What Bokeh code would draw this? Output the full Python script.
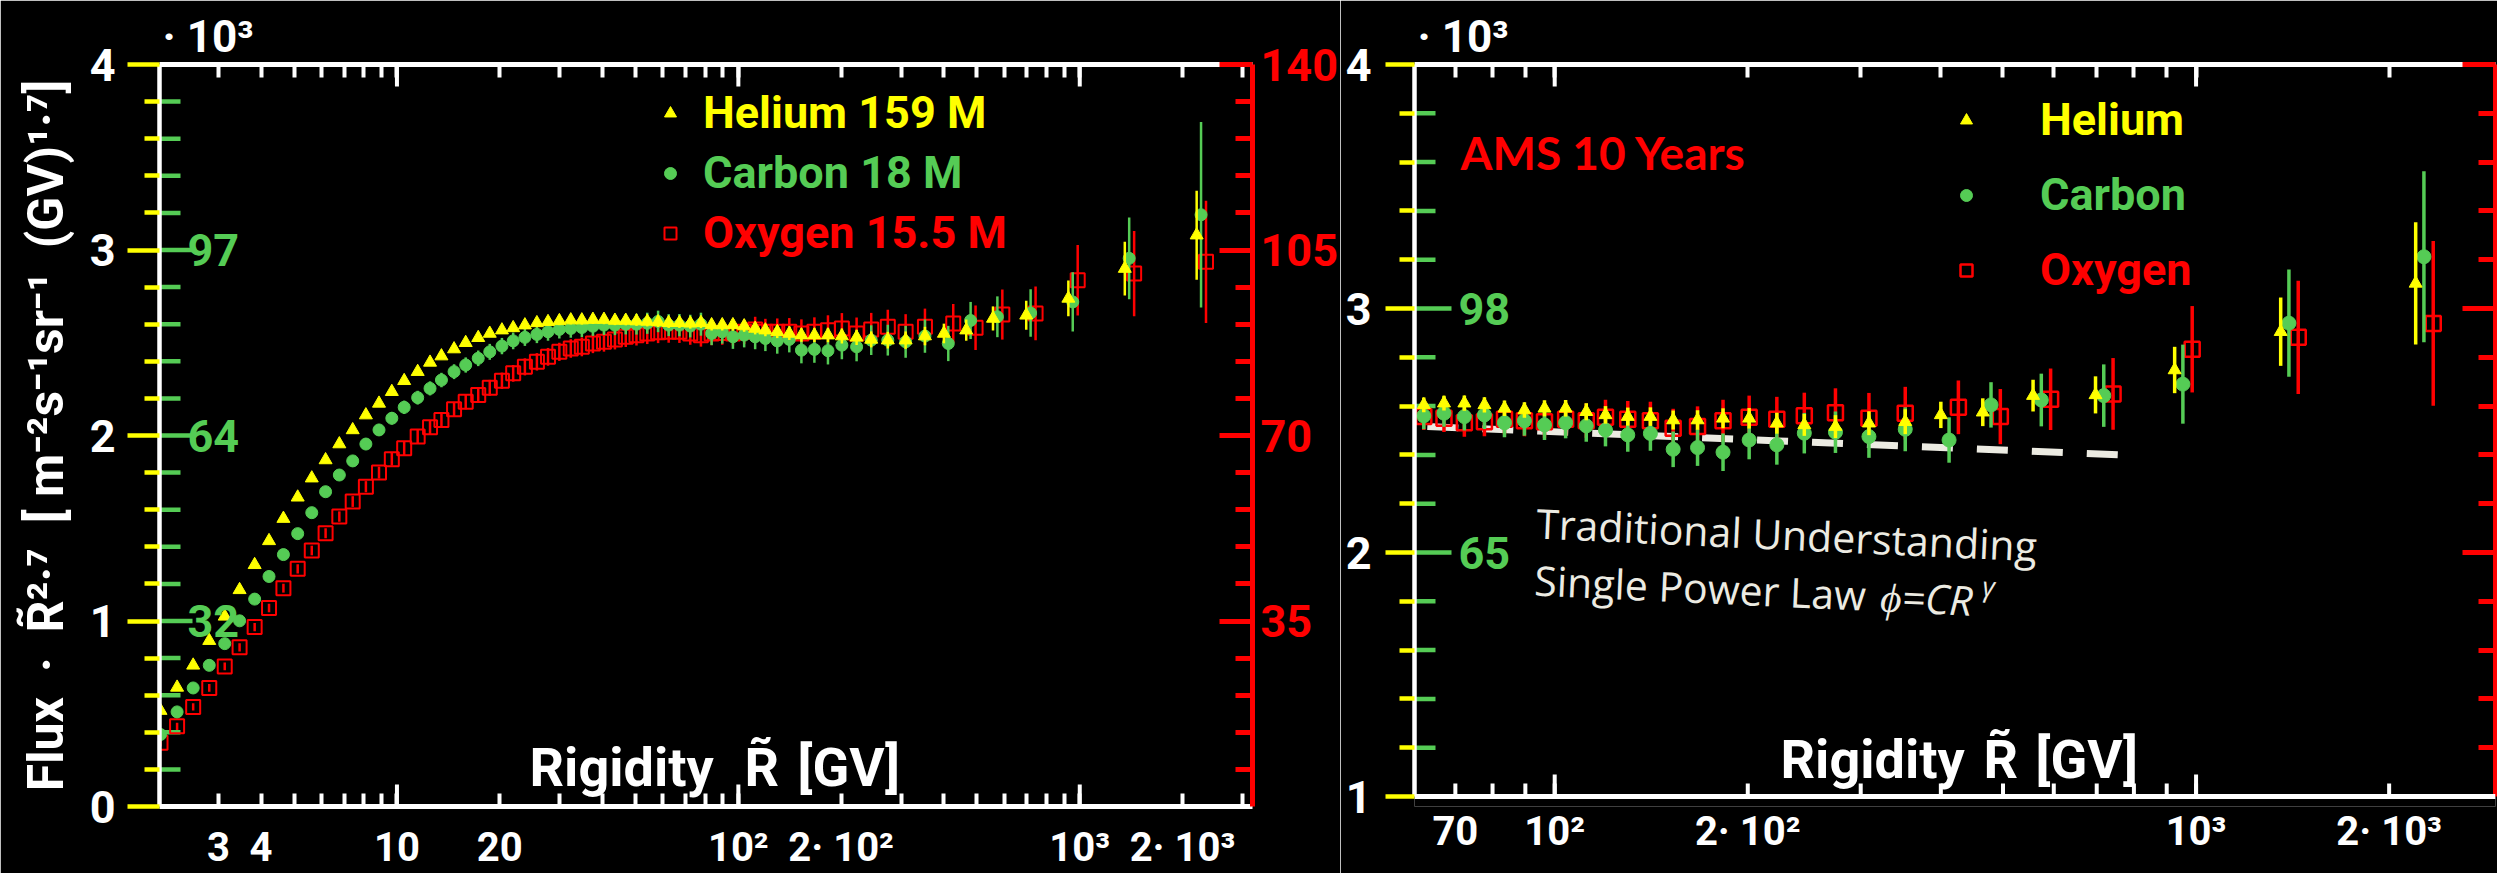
import math

from bokeh.embed import file_html
from bokeh.layouts import row
from bokeh.models import (ColumnDataSource, FixedTicker, Label, Legend, LegendItem,
                          LinearAxis, LogAxis, Range1d, Span)
from bokeh.plotting import figure
from bokeh.resources import INLINE

# ---------------------------------------------------------------------------
# AMS helium, carbon and oxygen rigidity spectra, flux x R^2.7 (units of 10^3)
# ---------------------------------------------------------------------------
rigidity = [2.03, 2.27, 2.53, 2.82, 3.13, 3.46, 3.83, 4.22, 4.65, 5.12,
            5.63, 6.18, 6.78, 7.42, 8.11, 8.86, 9.66, 10.5, 11.5, 12.5,
            13.5, 14.7, 15.9, 17.3, 18.7, 20.3, 21.9, 23.7, 25.7, 27.7,
            29.9, 32.3, 34.8, 37.5, 40.4, 43.5, 46.8, 50.3, 54.1, 58.2,
            62.5, 67.2, 72.3, 77.7, 83.5, 89.7, 96.4, 104, 112, 120,
            130, 141, 153, 167, 183, 201, 222, 245, 274, 309,
            352, 400, 465, 557, 697, 926, 1355, 2200]

helium_flux = [0.517, 0.642, 0.761, 0.894, 1.025, 1.168, 1.303, 1.432, 1.552, 1.667,
               1.770, 1.868, 1.954, 2.030, 2.110, 2.173, 2.236, 2.295, 2.344, 2.394,
               2.428, 2.466, 2.500, 2.527, 2.550, 2.568, 2.580, 2.595, 2.607, 2.613,
               2.618, 2.622, 2.622, 2.625, 2.625, 2.620, 2.620, 2.617, 2.615, 2.612,
               2.608, 2.608, 2.605, 2.608, 2.596, 2.596, 2.596, 2.590, 2.577, 2.568,
               2.559, 2.550, 2.541, 2.541, 2.541, 2.536, 2.529, 2.518, 2.514, 2.514,
               2.536, 2.550, 2.568, 2.631, 2.648, 2.739, 2.900, 3.080]
helium_err = [0.005, 0.005, 0.005, 0.005, 0.005, 0.005, 0.005, 0.006, 0.006, 0.006,
              0.006, 0.007, 0.007, 0.007, 0.008, 0.009, 0.010, 0.011, 0.012, 0.013,
              0.014, 0.015, 0.016, 0.017, 0.018, 0.019, 0.020, 0.021, 0.022, 0.022,
              0.023, 0.023, 0.024, 0.024, 0.025, 0.025, 0.026, 0.026, 0.027, 0.027,
              0.028, 0.028, 0.029, 0.029, 0.030, 0.030, 0.031, 0.031, 0.032, 0.033,
              0.034, 0.035, 0.036, 0.037, 0.038, 0.040, 0.041, 0.043, 0.045, 0.047,
              0.050, 0.053, 0.057, 0.065, 0.078, 0.096, 0.145, 0.240]

carbon_flux = [0.388, 0.510, 0.639, 0.761, 0.878, 1.001, 1.118, 1.240, 1.358, 1.471,
               1.584, 1.697, 1.787, 1.863, 1.954, 2.030, 2.093, 2.152, 2.204, 2.254,
               2.299, 2.344, 2.380, 2.416, 2.451, 2.482, 2.510, 2.529, 2.545, 2.559,
               2.572, 2.577, 2.582, 2.589, 2.595, 2.595, 2.600, 2.600, 2.605, 2.615,
               2.595, 2.595, 2.590, 2.600, 2.550, 2.559, 2.532, 2.541, 2.532, 2.523,
               2.510, 2.518, 2.460, 2.464, 2.457, 2.487, 2.478, 2.514, 2.514, 2.505,
               2.536, 2.496, 2.620, 2.640, 2.660, 2.720, 2.955, 3.190]
carbon_err = [0.020, 0.020, 0.020, 0.021, 0.021, 0.022, 0.022, 0.023, 0.024, 0.025,
              0.026, 0.027, 0.028, 0.029, 0.030, 0.032, 0.034, 0.036, 0.037, 0.038,
              0.039, 0.040, 0.041, 0.042, 0.043, 0.044, 0.045, 0.046, 0.047, 0.048,
              0.049, 0.050, 0.051, 0.052, 0.053, 0.054, 0.055, 0.056, 0.057, 0.058,
              0.059, 0.060, 0.061, 0.062, 0.063, 0.064, 0.065, 0.066, 0.067, 0.068,
              0.069, 0.070, 0.071, 0.072, 0.074, 0.076, 0.078, 0.080, 0.083, 0.086,
              0.090, 0.095, 0.100, 0.110, 0.128, 0.160, 0.220, 0.500]

oxygen_flux = [0.343, 0.432, 0.537, 0.639, 0.755, 0.858, 0.967, 1.070, 1.177, 1.281,
               1.380, 1.473, 1.563, 1.644, 1.724, 1.800, 1.872, 1.931, 1.994, 2.044,
               2.083, 2.141, 2.182, 2.218, 2.257, 2.295, 2.335, 2.370, 2.397, 2.424,
               2.451, 2.469, 2.478, 2.496, 2.505, 2.518, 2.532, 2.541, 2.550, 2.556,
               2.559, 2.559, 2.550, 2.541, 2.550, 2.553, 2.550, 2.559, 2.572, 2.559,
               2.559, 2.559, 2.550, 2.559, 2.568, 2.577, 2.550, 2.572, 2.586, 2.559,
               2.586, 2.604, 2.581, 2.652, 2.658, 2.837, 2.873, 2.936]
oxygen_err = [0.020, 0.020, 0.020, 0.021, 0.021, 0.022, 0.022, 0.023, 0.024, 0.025,
              0.026, 0.027, 0.028, 0.029, 0.030, 0.032, 0.034, 0.036, 0.037, 0.038,
              0.039, 0.040, 0.041, 0.042, 0.043, 0.044, 0.045, 0.046, 0.047, 0.048,
              0.049, 0.050, 0.051, 0.052, 0.053, 0.054, 0.055, 0.056, 0.057, 0.058,
              0.059, 0.060, 0.061, 0.062, 0.063, 0.064, 0.065, 0.066, 0.068, 0.070,
              0.072, 0.074, 0.076, 0.078, 0.080, 0.083, 0.086, 0.089, 0.092, 0.095,
              0.098, 0.105, 0.120, 0.135, 0.145, 0.190, 0.230, 0.330]

# ten-year data set above 60 GV
rigidity_10y = [62.5, 67.2, 72.3, 77.7, 83.5, 89.7, 96.4, 104, 112, 120,
                130, 141, 153, 167, 183, 201, 222, 245, 274, 309,
                352, 400, 465, 557, 697, 926, 1355, 2200]
helium_flux_10y = [2.605, 2.612, 2.612, 2.605, 2.591, 2.584, 2.591, 2.591, 2.577, 2.564,
                   2.557, 2.557, 2.543, 2.543, 2.550, 2.550, 2.530, 2.523, 2.516, 2.530,
                   2.536, 2.564, 2.575, 2.643, 2.646, 2.748, 2.905, 3.103]
helium_err_10y = [0.030, 0.030, 0.031, 0.031, 0.032, 0.032, 0.033, 0.034, 0.035, 0.036,
                  0.037, 0.038, 0.039, 0.040, 0.041, 0.042, 0.043, 0.045, 0.047, 0.049,
                  0.051, 0.054, 0.057, 0.065, 0.076, 0.095, 0.140, 0.250]
carbon_flux_10y = [2.560, 2.571, 2.557, 2.564, 2.532, 2.540, 2.523, 2.532, 2.519, 2.502,
                   2.482, 2.488, 2.423, 2.430, 2.411, 2.461, 2.441, 2.489, 2.493, 2.475,
                   2.505, 2.461, 2.605, 2.625, 2.643, 2.690, 2.940, 3.212]
carbon_err_10y = [0.055, 0.056, 0.057, 0.058, 0.060, 0.061, 0.062, 0.064, 0.065, 0.067,
                  0.069, 0.071, 0.073, 0.075, 0.077, 0.079, 0.081, 0.083, 0.085, 0.087,
                  0.090, 0.093, 0.093, 0.108, 0.128, 0.162, 0.220, 0.350]
oxygen_flux_10y = [2.557, 2.550, 2.532, 2.536, 2.546, 2.540, 2.536, 2.546, 2.540, 2.554,
                   2.546, 2.540, 2.509, 2.516, 2.540, 2.554, 2.546, 2.560, 2.573, 2.550,
                   2.571, 2.595, 2.557, 2.628, 2.650, 2.833, 2.882, 2.939]
oxygen_err_10y = [0.055, 0.056, 0.058, 0.060, 0.062, 0.064, 0.066, 0.068, 0.070, 0.072,
                  0.075, 0.078, 0.080, 0.083, 0.086, 0.089, 0.092, 0.095, 0.100, 0.104,
                  0.108, 0.110, 0.113, 0.126, 0.147, 0.177, 0.232, 0.338]

# single power law reference line
fit_rigidity = [63.3, 758]
fit_flux = [2.516, 2.400]

# axis ticks and labels
x_ticks_left = [3, 4, 5, 6, 7, 8, 9, 10, 20, 30, 40, 50, 60, 70, 80, 90,
                100, 200, 300, 400, 500, 600, 700, 800, 900, 1000, 2000, 3000]
x_labels_left = {3: "3", 4: "4", 10: "10", 20: "20", 100: "10²", 200: "2· 10²",
                 1000: "10³", 2000: "2· 10³"}
x_ticks_right = [70, 80, 90, 100, 200, 300, 400, 500, 600, 700, 800, 900, 1000, 2000]
x_labels_right = {70: "70", 100: "10²", 200: "2· 10²", 1000: "10³", 2000: "2· 10³"}
decades = [10, 100, 1000]

y_ticks_left = [0, 1, 2, 3, 4]
y_ticks_right = [1, 2, 3, 4]
carbon_scale_left = {1: "32", 2: "64", 3: "97"}
carbon_scale_right = {2: "65", 3: "98"}
oxygen_ticks_left = [35, 70, 105, 140]
oxygen_ticks_right = [70, 105, 140]
OXYGEN_PER_UNIT = 35     # right-hand scale: 35 oxygen units per flux unit

Y_TITLE = ("Flux\u00a0\u00a0·\u00a0\u00a0R\u0303²·⁷\u00a0\u00a0[\u00a0m⁻²s⁻¹sr⁻¹"
           "\u00a0\u00a0(GV)¹·⁷]")

FONT = "Roboto"
YELLOW = "#ffff00"
GREEN = "#55cc55"
RED = "#ff0000"
WHITE = "#ffffff"
PALE = "#ecebe2"

SHIFT_FROM = 390        # high-rigidity bins are spread sideways for legibility
CARBON_SHIFT = 1.03
OXYGEN_SHIFT = 1.065


def text(p, s, x, y, size, color, font=FONT, style="bold", align="left",
         baseline="alphabetic", angle=0.0, y_units="screen"):
    p.add_layout(Label(x=x, y=y, x_units="screen", y_units=y_units, text=s,
                       text_font=font, text_font_style=style,
                       text_font_size=f"{size}px", text_color=color,
                       text_align=align, text_baseline=baseline, angle=angle))


def make_figure(width, x_range, y_range, left, right):
    p = figure(width=width, height=873, x_axis_type="log",
               x_range=x_range, y_range=y_range,
               min_border_left=left, min_border_right=right,
               min_border_top=64, min_border_bottom=66,
               output_backend="svg", toolbar_location=None,
               background_fill_color="black", border_fill_color="black",
               outline_line_color=None)
    p.grid.visible = False
    # "x 10^3" multiplier shown above the flux axis
    p.title.text = "· 10³"
    p.title.align = "left"
    p.title.offset = 3
    p.title.standoff = 3
    p.title.text_font = FONT
    p.title.text_font_style = "bold"
    p.title.text_font_size = "44px"
    p.title.text_color = WHITE
    return p


def rule_style(ax):
    ax.axis_line_color = WHITE
    ax.axis_line_width = 5
    ax.major_tick_line_color = WHITE
    ax.major_tick_line_width = 4
    ax.major_tick_in = 13
    ax.major_tick_out = 0
    ax.minor_tick_line_color = WHITE
    ax.minor_tick_line_width = 4
    ax.minor_tick_in = 13
    ax.minor_tick_out = 0


def style_x_axes(p, ticks, labels, standoff, base=None):
    """Bottom and top rigidity axes.  With `base` the bottom rule is drawn at
    that flux value inside the frame; the axis below only carries the labels."""
    labelled = sorted(labels)
    ticker = FixedTicker(ticks=labelled,
                         minor_ticks=[t for t in ticks if t not in labels])
    bottom = p.xaxis[0]
    top = LogAxis(ticker=ticker)
    p.add_layout(top, "above")
    rule_style(top)
    top.major_label_text_color = None
    top.major_label_text_font_size = "1px"
    top.major_label_standoff = 0

    bottom.ticker = ticker
    bottom.major_label_overrides = {t: labels[t] for t in labelled}
    bottom.major_label_text_color = WHITE
    bottom.major_label_text_font = FONT
    bottom.major_label_text_font_style = "bold"
    bottom.major_label_text_font_size = "40px"
    bottom.major_label_standoff = standoff
    if base is None:
        rule_style(bottom)
        base = p.y_range.start
    else:
        bottom.axis_line_color = None
        bottom.major_tick_line_color = None
        bottom.minor_tick_line_color = None
        bottom.major_tick_in = bottom.major_tick_out = 0
        bottom.minor_tick_in = bottom.minor_tick_out = 0
        p.add_layout(Span(location=base, dimension="width",
                          line_color=WHITE, line_width=5))
        p.ray(x=ticks, y=[base] * len(ticks), length=13, length_units="screen",
              angle=math.pi / 2, line_color=WHITE, line_width=4)
    # longer ticks at each decade, on both horizontal axes
    dec = [d for d in decades if p.x_range.start < d < p.x_range.end]
    p.ray(x=dec, y=[base] * len(dec), length=22, length_units="screen",
          angle=math.pi / 2, line_color=WHITE, line_width=4)
    p.ray(x=dec, y=[p.y_range.end] * len(dec), length=22, length_units="screen",
          angle=-math.pi / 2, line_color=WHITE, line_width=4)


def style_y_axis(ax, ticks, lo, hi, tick_out, standoff):
    minors = [lo + i * 0.2 for i in range(1, int(round((hi - lo) * 5)))
              if i % 5]
    ax.ticker = FixedTicker(ticks=ticks, minor_ticks=minors)
    ax.bounds = (lo, hi)
    ax.axis_line_color = WHITE
    ax.axis_line_width = 4.5
    ax.major_tick_line_color = YELLOW
    ax.major_tick_line_width = 4.5
    ax.major_tick_out = tick_out
    ax.major_tick_in = 0
    ax.minor_tick_line_color = YELLOW
    ax.minor_tick_line_width = 4.5
    ax.minor_tick_out = 15
    ax.minor_tick_in = 0
    ax.major_label_text_color = WHITE
    ax.major_label_text_font = FONT
    ax.major_label_text_font_style = "bold"
    ax.major_label_text_font_size = "45px"
    ax.major_label_standoff = standoff
    return minors


def oxygen_axis(p, lo, hi, ticks, show_labels):
    p.extra_y_ranges = {"oxygen": Range1d(p.y_range.start * OXYGEN_PER_UNIT,
                                          p.y_range.end * OXYGEN_PER_UNIT)}
    minors = [7 * i for i in range(int(lo // 7) + 1, int(hi // 7)) if i % 5]
    ax = LinearAxis(y_range_name="oxygen", bounds=(lo, hi),
                    ticker=FixedTicker(ticks=ticks, minor_ticks=minors))
    ax.axis_line_color = RED
    ax.axis_line_width = 5
    ax.major_tick_line_color = RED
    ax.major_tick_line_width = 5
    ax.major_tick_in = 33
    ax.major_tick_out = 0
    ax.minor_tick_line_color = RED
    ax.minor_tick_line_width = 5
    ax.minor_tick_in = 17
    ax.minor_tick_out = 0
    ax.major_label_text_font = FONT
    ax.major_label_text_font_style = "bold"
    if show_labels:
        ax.major_label_text_color = RED
        ax.major_label_text_font_size = "45px"
        ax.major_label_standoff = 8
    else:
        ax.major_label_text_color = None
        ax.major_label_text_font_size = "1px"
        ax.major_label_standoff = 0
    p.add_layout(ax, "right")


def carbon_scale(p, majors, minors, labels, major_len, label_x):
    x0 = p.x_range.start
    p.ray(x=[x0] * len(majors), y=majors, length=major_len, length_units="screen",
          angle=0, line_color=GREEN, line_width=4.5)
    p.ray(x=[x0] * len(minors), y=minors, length=21, length_units="screen",
          angle=0, line_color=GREEN, line_width=4.5)
    for yv, s in labels.items():
        text(p, s, label_x, yv, 45, GREEN, baseline="middle", y_units="data")


def draw_species(p, r, flux, err, shift, color, marker, size, fill, edge, bar):
    xs = [v * shift if v >= SHIFT_FROM else v for v in r]
    src = ColumnDataSource(dict(x=xs, y=flux,
                                lo=[f - e for f, e in zip(flux, err)],
                                hi=[f + e for f, e in zip(flux, err)]))
    p.segment(x0="x", y0="lo", x1="x", y1="hi", source=src,
              line_color=color, line_width=bar)
    return p.scatter(x="x", y="y", source=src, marker=marker, size=size,
                     fill_color=fill, line_color=color, line_width=edge)


def legend(p, renderer, label, color, x, y, standoff):
    p.add_layout(Legend(items=[LegendItem(label=label, renderers=[renderer])],
                        location=(x, y), background_fill_alpha=0,
                        border_line_alpha=0, padding=0, margin=0, spacing=0,
                        glyph_width=30, glyph_height=40, label_height=40,
                        label_standoff=standoff, label_text_font=FONT,
                        label_text_font_style="bold", label_text_font_size="45px",
                        label_text_color=color, label_text_baseline="middle"))


# ---------------------------- left panel -----------------------------------
p1 = make_figure(1340, Range1d(2.016, 3206), Range1d(0, 4), 159, 87)
style_x_axes(p1, x_ticks_left, x_labels_left, 17)
minors1 = style_y_axis(p1.yaxis[0], y_ticks_left, 0, 4, 32, 12)
p1.yaxis[0].axis_label = Y_TITLE
p1.yaxis[0].axis_label_text_color = WHITE
p1.yaxis[0].axis_label_text_font = FONT
p1.yaxis[0].axis_label_text_font_style = "bold"
p1.yaxis[0].axis_label_text_font_size = "50px"
p1.yaxis[0].axis_label_standoff = 12
oxygen_axis(p1, 0, 140, oxygen_ticks_left, True)
carbon_scale(p1, [1, 2, 3], minors1, carbon_scale_left, 33, 28)

o1 = draw_species(p1, rigidity, oxygen_flux, oxygen_err, OXYGEN_SHIFT, RED,
                  "square", 14, None, 2, 2.5)
c1 = draw_species(p1, rigidity, carbon_flux, carbon_err, CARBON_SHIFT, GREEN,
                  "circle", 12, GREEN, 1, 2.5)
h1 = draw_species(p1, rigidity, helium_flux, helium_err, 1.0, YELLOW,
                  "triangle", 13, YELLOW, 1, 2.5)
legend(p1, h1, "Helium 159 M", YELLOW, 496, 667, 18)
legend(p1, c1, "Carbon 18 M", GREEN, 496, 607, 18)
legend(p1, o1, "Oxygen 15.5 M", RED, 496, 547, 18)

text(p1, "Rigidity", 370, 39, 54, WHITE)
text(p1, "R\u0303", 585, 39, 54, WHITE)
text(p1, "[GV]", 638, 39, 54, WHITE)

# ---------------------------- right panel ----------------------------------
# the frame runs 10 px below the flux value 1, where the rigidity rule sits
p2 = make_figure(1157, Range1d(60.45, 2930), Range1d(0.9591, 4), 74, 2)
style_x_axes(p2, x_ticks_right, x_labels_right, 1, base=1)
minors2 = style_y_axis(p2.yaxis[0], y_ticks_right, 1, 4, 29, 14)
oxygen_axis(p2, 35, 140, oxygen_ticks_right, False)
carbon_scale(p2, [2, 3], minors2, carbon_scale_right, 37, 44)

p2.line(fit_rigidity, fit_flux, line_color=PALE, line_width=7,
        line_dash="31 24", line_cap="butt")

o2 = draw_species(p2, rigidity_10y, oxygen_flux_10y, oxygen_err_10y, OXYGEN_SHIFT,
                  RED, "square", 15, None, 2.5, 3.5)
c2 = draw_species(p2, rigidity_10y, carbon_flux_10y, carbon_err_10y, CARBON_SHIFT,
                  GREEN, "circle", 14, GREEN, 1, 3.5)
h2 = draw_species(p2, rigidity_10y, helium_flux_10y, helium_err_10y, 1.0,
                  YELLOW, "triangle", 13, YELLOW, 1, 3.5)
legend(p2, h2, "Helium", YELLOW, 537, 660, 59)
legend(p2, c2, "Carbon", GREEN, 537, 585, 59)
legend(p2, o2, "Oxygen", RED, 537, 510, 59)

text(p2, "AMS 10 Years", 46, 654, 46, RED, font="Lato")
text(p2, "Rigidity", 366, 47, 54, WHITE)
text(p2, "R\u0303", 569, 47, 54, WHITE)
text(p2, "[GV]", 621, 47, 54, WHITE)

tilt = -0.046
text(p2, "Traditional Understanding", 122, 284, 41, PALE, font="Open Sans",
     style="normal", angle=tilt)
text(p2, "Single Power Law", 120, 227, 41, PALE, font="Open Sans",
     style="normal", angle=tilt)
text(p2, "ϕ=CR", 466, 211, 41, PALE, font="Open Sans", style="italic", angle=tilt)
text(p2, "γ", 568, 221, 27, PALE, font="Open Sans", style="italic", angle=tilt)

layout = row(p1, p2)
open("out.html", "w").write(file_html(layout, INLINE, title="AMS He C O rigidity spectra"))
